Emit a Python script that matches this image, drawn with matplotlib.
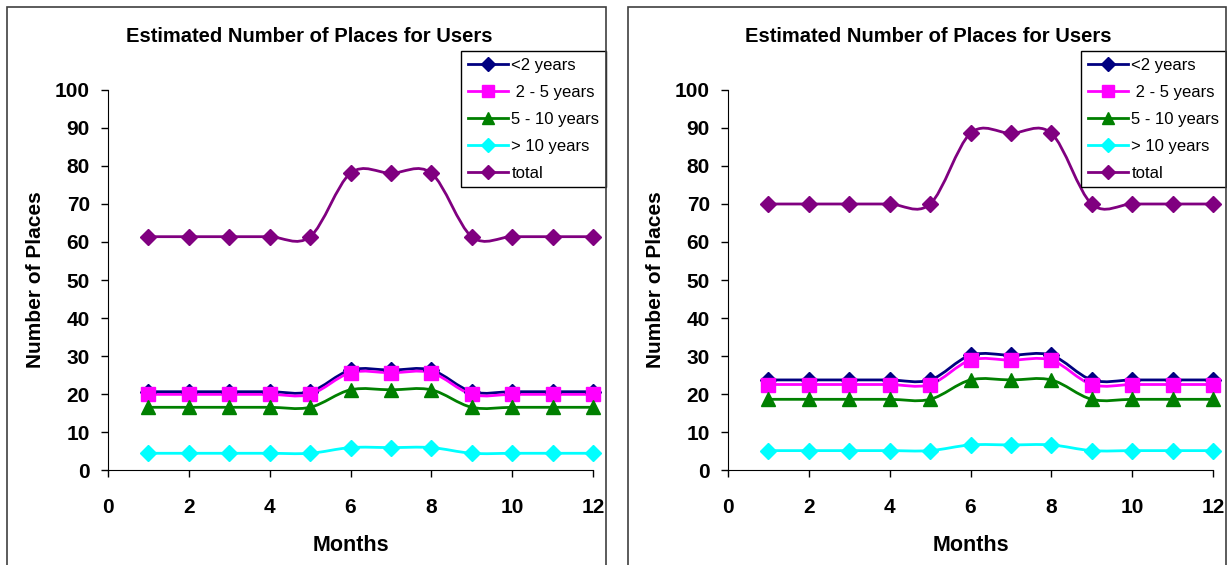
import matplotlib.pyplot as plt
from matplotlib.path import Path
from matplotlib.patches import PathPatch, Rectangle
from matplotlib.lines import Line2D

plt.rcParams['font.family'] = ['Liberation Sans', 'DejaVu Sans']

months = [1, 2, 3, 4, 5, 6, 7, 8, 9, 10, 11, 12]
labels = ['<2 years', ' 2 - 5 years', '5 - 10 years', '> 10 years', 'total']
colors = ['#000080', '#FF00FF', '#008000', '#00FFFF', '#800080']
markers = ['D', 's', '^', 'D', 'D']
sizes = [8, 9.5, 10, 8, 8]

# first scenario
a_lt2 = [20.6, 20.6, 20.6, 20.6, 20.6, 26.3, 26.3, 26.3, 20.6, 20.6, 20.6, 20.6]
a_2to5 = [19.9, 19.9, 19.9, 19.9, 19.9, 25.6, 25.6, 25.6, 19.9, 19.9, 19.9, 19.9]
a_5to10 = [16.5, 16.5, 16.5, 16.5, 16.5, 21.1, 21.1, 21.1, 16.5, 16.5, 16.5, 16.5]
a_gt10 = [4.4, 4.4, 4.4, 4.4, 4.4, 5.9, 5.9, 5.9, 4.4, 4.4, 4.4, 4.4]
a_total = [61.4, 61.4, 61.4, 61.4, 61.4, 78.1, 78.1, 78.1, 61.4, 61.4, 61.4, 61.4]

# second scenario
b_lt2 = [23.7, 23.7, 23.7, 23.7, 23.7, 30.2, 30.2, 30.2, 23.7, 23.7, 23.7, 23.7]
b_2to5 = [22.5, 22.5, 22.5, 22.5, 22.5, 28.9, 28.9, 28.9, 22.5, 22.5, 22.5, 22.5]
b_5to10 = [18.6, 18.6, 18.6, 18.6, 18.6, 23.7, 23.7, 23.7, 18.6, 18.6, 18.6, 18.6]
b_gt10 = [5.1, 5.1, 5.1, 5.1, 5.1, 6.6, 6.6, 6.6, 5.1, 5.1, 5.1, 5.1]
b_total = [70.0, 70.0, 70.0, 70.0, 70.0, 88.6, 88.6, 88.6, 70.0, 70.0, 70.0, 70.0]

W, H = 1227, 565


def smooth_path(x, y):
    # cubic bezier through every point, like a spreadsheet "smoothed line"
    n = len(x)
    verts = [(x[0], y[0])]
    codes = [Path.MOVETO]
    for i in range(n - 1):
        xp, yp = (x[i - 1], y[i - 1]) if i > 0 else (x[i], y[i])
        xn, yn = (x[i + 2], y[i + 2]) if i + 2 < n else (x[i + 1], y[i + 1])
        c1 = (x[i] + (x[i + 1] - xp) / 6, y[i] + (y[i + 1] - yp) / 6)
        c2 = (x[i + 1] - (xn - x[i]) / 6, y[i + 1] - (yn - y[i]) / 6)
        verts += [c1, c2, (x[i + 1], y[i + 1])]
        codes += [Path.CURVE4] * 3
    return Path(verts, codes)


def draw_chart(ax, series, title_x, frame_x0, frame_x1):
    for vals, c, m, s in zip(series, colors, markers, sizes):
        ax.add_patch(PathPatch(smooth_path(months, vals), fill=False,
                               edgecolor=c, lw=2, clip_on=False))
        ax.plot(months, vals, ls='none', marker=m, ms=s, color=c,
                clip_on=False)

    ax.set_xlim(0, 12)
    ax.set_ylim(0, 100)
    ax.set_xticks(range(0, 13, 2))
    ax.set_yticks(range(0, 101, 10))
    ax.spines['top'].set_visible(False)
    ax.spines['right'].set_visible(False)
    ax.tick_params(direction='out', length=5, width=1, labelsize=15)
    ax.tick_params(axis='y', pad=8)
    ax.tick_params(axis='x', pad=15)
    for t in ax.get_xticklabels() + ax.get_yticklabels():
        t.set_fontweight('bold')

    ax.set_xlabel('Months', fontsize=15.5, fontweight='bold')
    ax.xaxis.set_label_coords(0.5, -0.17)
    ax.set_ylabel('Number of Places', fontsize=15, fontweight='bold')
    ax.yaxis.set_label_coords(-0.13, 0.5)

    fig.text(title_x / W, 1 - 36 / H, 'Estimated Number of Places for Users',
             ha='center', va='center', fontsize=14.5, fontweight='bold')

    # chart area border
    fig.add_artist(Rectangle((frame_x0 / W, -0.05), (frame_x1 - frame_x0) / W,
                             1.05 - 7 / H, transform=fig.transFigure,
                             fill=False, edgecolor='#404040', lw=1.2))

    handles = [Line2D([], [], color=c, marker=m, ms=s * 0.9, lw=2)
               for c, m, s in zip(colors, markers, sizes)]
    leg = ax.legend(handles, labels, loc='upper right',
                    bbox_to_anchor=(frame_x1 / W, 1 - 51 / H),
                    bbox_transform=fig.transFigure, fontsize=12,
                    frameon=True, fancybox=False, framealpha=1,
                    handlelength=2.4, handletextpad=0.2, labelspacing=0.72,
                    borderpad=0.4, borderaxespad=0)
    leg.get_frame().set_edgecolor('black')
    leg.get_frame().set_linewidth(1)


fig = plt.figure(figsize=(W / 100, H / 100), dpi=100)

ax1 = fig.add_axes([108 / W, 95 / H, 485 / W, 380 / H])
draw_chart(ax1, [a_lt2, a_2to5, a_5to10, a_gt10, a_total], 309, 7, 606)

ax2 = fig.add_axes([728 / W, 95 / H, 485 / W, 380 / H])
draw_chart(ax2, [b_lt2, b_2to5, b_5to10, b_gt10, b_total], 928, 628, 1226)

fig.savefig('out.png', dpi=100)
